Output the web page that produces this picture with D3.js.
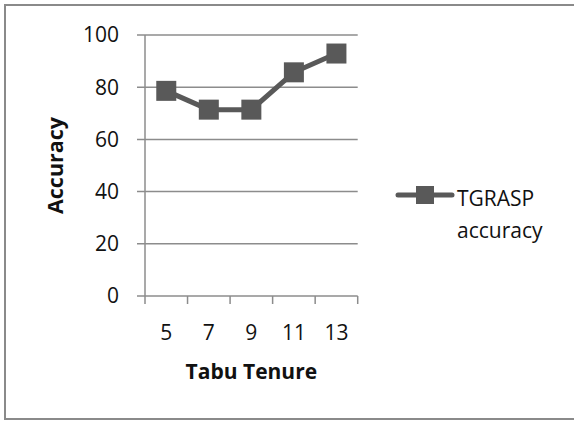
<!DOCTYPE html>
<html>
<head>
<meta charset="utf-8">
<script src="https://cdn.jsdelivr.net/npm/d3@7"></script>
<style>
  body { margin: 0; background: #fff; }
  svg { display: block; font-family: "Open Sans", sans-serif; }
</style>
</head>
<body>
<div id="chart"></div>
<script>
// chart data
var tenures = ["5", "7", "9", "11", "13"];
var accuracy = [78.6, 71.4, 71.4, 85.7, 92.9];
var yTicks = [0, 20, 40, 60, 80, 100];
var seriesName = ["TGRASP", "accuracy"];

var areaWidth = 574, areaHeight = 421;
var plotLeft = 145, plotRight = 357.7, plotTop = 35, plotBottom = 296;
var lineColor = "#595959", gridColor = "#8c8c8c";

var svg = d3.select("#chart").append("svg")
    .attr("width", areaWidth)
    .attr("height", areaHeight);

// outer frame (right side is cut off in the original)
svg.append("path")
    .attr("d", "M" + (areaWidth + 5) + ",5H5V419H" + (areaWidth + 5))
    .style("fill", "none")
    .style("stroke", "#8a8a8a")
    .style("stroke-width", 2);

var x = d3.scaleBand().domain(tenures).range([plotLeft, plotRight]).padding(0);
var y = d3.scaleLinear().domain([0, 100]).range([plotBottom, plotTop]);

// horizontal gridlines, starting at the outward tick
svg.selectAll("line.grid")
    .data(yTicks)
    .enter()
    .append("line")
    .attr("class", "grid")
    .attr("x1", plotLeft - 8)
    .attr("x2", plotRight)
    .attr("y1", function(d) { return y(d); })
    .attr("y2", function(d) { return y(d); })
    .style("stroke", gridColor)
    .style("stroke-width", 1.5);

// y axis line
svg.append("line")
    .attr("x1", plotLeft).attr("x2", plotLeft)
    .attr("y1", plotTop).attr("y2", plotBottom)
    .style("stroke", gridColor)
    .style("stroke-width", 1.5);

// y tick labels
svg.selectAll("text.ylab")
    .data(yTicks)
    .enter()
    .append("text")
    .attr("class", "ylab")
    .text(function(d) { return d; })
    .attr("x", plotLeft - 26)
    .attr("y", function(d) { return y(d); })
    .attr("dy", "0.35em")
    .attr("text-anchor", "end")
    .style("font-size", "21px")
    .style("fill", "#111");

// x tick marks at category boundaries
var boundaries = tenures.map(function(d) { return x(d); }).concat([plotRight]);
svg.selectAll("line.xtick")
    .data(boundaries)
    .enter()
    .append("line")
    .attr("class", "xtick")
    .attr("x1", function(d) { return d; })
    .attr("x2", function(d) { return d; })
    .attr("y1", plotBottom)
    .attr("y2", plotBottom + 8)
    .style("stroke", gridColor)
    .style("stroke-width", 1.5);

// x tick labels
svg.selectAll("text.xlab")
    .data(tenures)
    .enter()
    .append("text")
    .attr("class", "xlab")
    .text(function(d) { return d; })
    .attr("x", function(d) { return x(d) + x.bandwidth() / 2; })
    .attr("y", 339.5)
    .attr("text-anchor", "middle")
    .style("font-size", "21px")
    .style("fill", "#111");

// axis titles
svg.append("text")
    .text("Tabu Tenure")
    .attr("x", (plotLeft + plotRight) / 2)
    .attr("y", 379)
    .attr("text-anchor", "middle")
    .style("font-size", "21px")
    .style("font-weight", "bold")
    .style("fill", "#111");

svg.append("text")
    .text("Accuracy")
    .attr("transform", "translate(63," + (plotTop + plotBottom) / 2 + ") rotate(-90)")
    .attr("text-anchor", "middle")
    .style("font-size", "21.5px")
    .style("font-weight", "bold")
    .style("fill", "#111");

// series line
var line = d3.line()
    .x(function(d, i) { return x(tenures[i]) + x.bandwidth() / 2; })
    .y(function(d) { return y(d); });

svg.append("path")
    .datum(accuracy)
    .attr("d", line)
    .style("fill", "none")
    .style("stroke", lineColor)
    .style("stroke-width", 5)
    .style("stroke-linejoin", "round");

var ms = 20;
svg.selectAll("rect.marker")
    .data(accuracy)
    .enter()
    .append("rect")
    .attr("class", "marker")
    .attr("x", function(d, i) { return x(tenures[i]) + x.bandwidth() / 2 - ms / 2; })
    .attr("y", function(d) { return y(d) - ms / 2; })
    .attr("width", ms)
    .attr("height", ms)
    .style("fill", lineColor);

// legend
var lg = svg.append("g").attr("transform", "translate(398,195)");
lg.append("line")
    .attr("x1", 0).attr("x2", 54)
    .style("stroke", lineColor)
    .style("stroke-width", 5)
    .style("stroke-linecap", "round");
lg.append("rect")
    .attr("x", 18).attr("y", -9)
    .attr("width", 18).attr("height", 18)
    .style("fill", lineColor);
lg.selectAll("text")
    .data(seriesName)
    .enter()
    .append("text")
    .text(function(d) { return d; })
    .attr("x", 59)
    .attr("y", function(d, i) { return 10.5 + i * 32.5; })
    .style("font-size", "21px")
    .style("fill", "#111");
</script>
</body>
</html>
